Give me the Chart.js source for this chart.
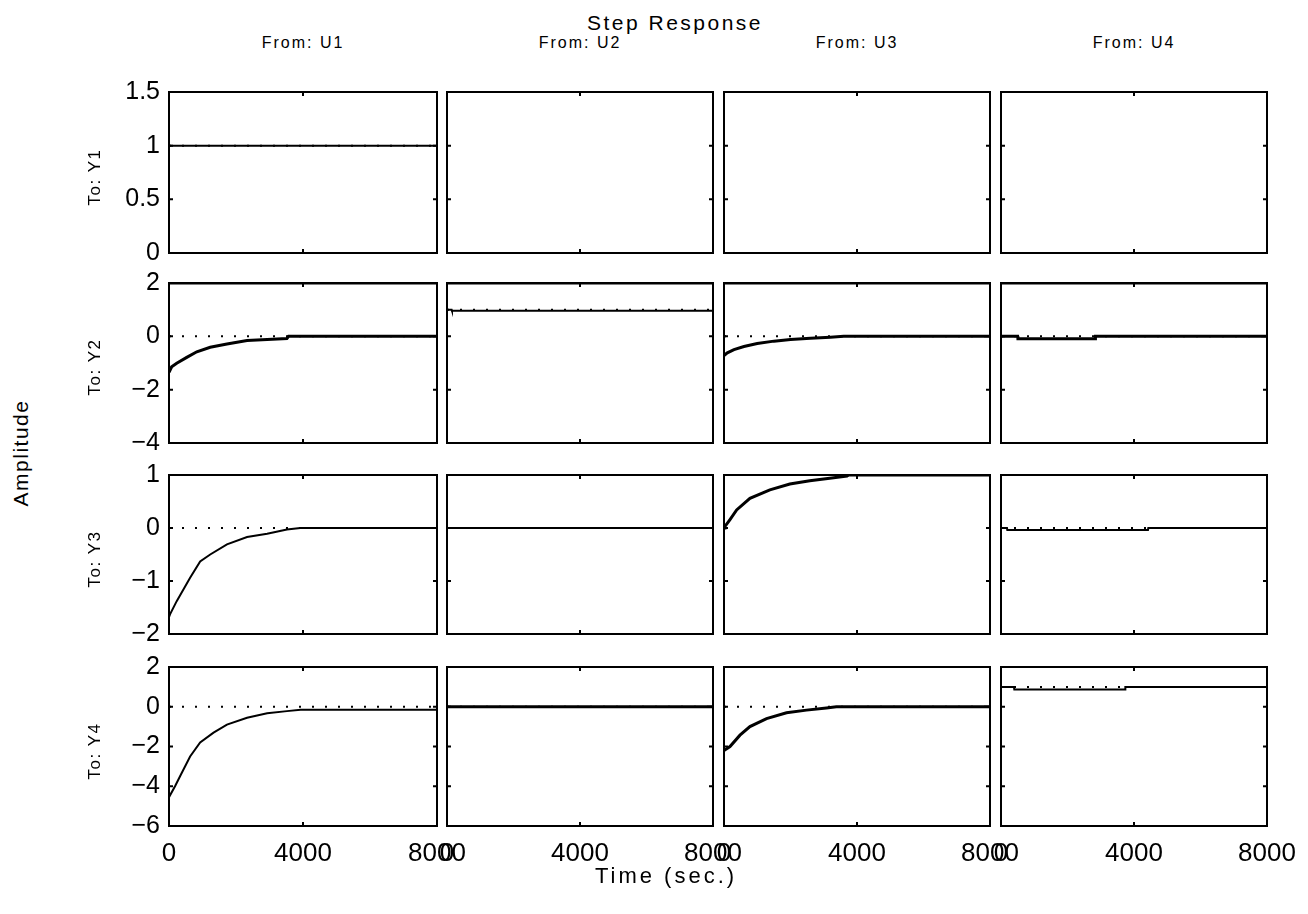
<!DOCTYPE html>
<html>
<head>
<meta charset="utf-8">
<script src="https://cdn.jsdelivr.net/npm/chart.js@4"></script>
<style>
  body { margin: 0; background: #fff; }
  #stage { position: relative; width: 1308px; height: 914px; overflow: hidden; font-family: "Liberation Sans", Arial, sans-serif; color: #000; }
  #stage canvas { position: absolute; }
  .lbl { position: absolute; white-space: nowrap; transform: translate(-50%, -50%); }
  .rot { transform: translate(-50%, -50%) rotate(-90deg); }
</style>
</head>
<body>
<div id="stage"></div>
<script>
// -------------------------
// Data
// -------------------------
const inputs = ["U1", "U2", "U3", "U4"];
const outputs = ["Y1", "Y2", "Y3", "Y4"];
const timeTicks = [0, 4000, 8000];
const y1Ticks = [0, 0.5, 1, 1.5];
const y2Ticks = [-4, -2, 0, 2];
const y3Ticks = [-2, -1, 0, 1];
const y4Ticks = [-6, -4, -2, 0, 2];

// steady-state (dotted) levels, row = output, col = input
const steadyY1 = [1, 0, 0, 0];
const steadyY2 = [0, 1, 0, 0];
const steadyY3 = [0, 0, 1, 0];
const steadyY4 = [0, 0, 0, 1];

const flatT = [0, 8000];
const zeroV = [0, 0];

// To: Y1
const y1u1V = [1, 1];

// To: Y2
const y2TopV = [2, 2];
const y2u1T = [0, 80, 230, 530, 830, 1230, 1730, 2330, 2930, 3520, 3570, 8000];
const y2u1V = [-1.35, -1.14, -1.01, -0.79, -0.58, -0.41, -0.29, -0.16, -0.12, -0.08, 0, 0];
const y2u2T = [0, 140, 150, 8000];
const y2u2V = [1, 1, 0.96, 0.96];
const y2u3T = [0, 100, 300, 600, 1000, 1500, 2000, 2600, 3200, 3600, 8000];
const y2u3V = [-0.72, -0.62, -0.5, -0.38, -0.27, -0.18, -0.12, -0.07, -0.03, 0, 0];
const y2u4T = [0, 500, 510, 2830, 2840, 8000];
const y2u4V = [0, 0, -0.09, -0.09, 0, 0];

// To: Y3
const y3u1T = [0, 30, 230, 630, 930, 1230, 1730, 2330, 2930, 3520, 3920, 8000];
const y3u1V = [-1.68, -1.63, -1.38, -0.94, -0.63, -0.5, -0.31, -0.17, -0.11, -0.03, 0, 0];
const y3u3T = [0, 30, 180, 380, 780, 1380, 1980, 2580, 3180, 3700, 3750, 8000];
const y3u3V = [0, 0.03, 0.16, 0.34, 0.56, 0.72, 0.83, 0.89, 0.94, 0.98, 1, 1];
const y3u4T = [0, 180, 190, 4420, 4430, 8000];
const y3u4V = [0, 0, -0.04, -0.04, 0, 0];

// To: Y4
const y4u1T = [0, 180, 330, 630, 930, 1330, 1730, 2330, 2930, 3520, 3930, 8000];
const y4u1V = [-4.55, -4.0, -3.5, -2.5, -1.8, -1.3, -0.9, -0.55, -0.33, -0.22, -0.15, -0.15];
const y4u3T = [0, 180, 480, 780, 1280, 1880, 2480, 3080, 3380, 8000];
const y4u3V = [-2.2, -2.0, -1.43, -1.0, -0.6, -0.3, -0.17, -0.06, 0, 0];
const y4u4T = [0, 390, 400, 3730, 3740, 8000];
const y4u4V = [1, 1, 0.87, 0.87, 1, 1];

// -------------------------
// Panel setup
// -------------------------
const rowTicks = [y1Ticks, y2Ticks, y3Ticks, y4Ticks];
const rowSteady = [steadyY1, steadyY2, steadyY3, steadyY4];

// response traces per panel: [times, values, width]
const traces = [
  [[[flatT, y1u1V, 2]], [[flatT, zeroV, 2]], [[flatT, zeroV, 2]], [[flatT, zeroV, 2]]],
  [
    [[flatT, y2TopV, 3], [y2u1T, y2u1V, 3]],
    [[flatT, y2TopV, 3], [y2u2T, y2u2V, 2]],
    [[flatT, y2TopV, 3], [y2u3T, y2u3V, 3]],
    [[flatT, y2TopV, 3], [y2u4T, y2u4V, 3]]
  ],
  [[[y3u1T, y3u1V, 2]], [[flatT, zeroV, 2]], [[y3u3T, y3u3V, 3]], [[y3u4T, y3u4V, 2]]],
  [[[y4u1T, y4u1V, 2]], [[flatT, zeroV, 3]], [[y4u3T, y4u3V, 3]], [[y4u4T, y4u4V, 2]]]
];

const colBox = [[169, 437], [447, 713], [724, 990], [1001, 1267]];
const rowBox = [[92, 253], [283, 443], [475, 634], [667, 826]];
const LEFT = 70, TOP = 24, RIGHT = 40, BOTTOM = 56;

const stage = document.getElementById("stage");

function addLabel(text, x, y, size, rotate, extra) {
  const d = document.createElement("div");
  d.className = "lbl" + (rotate ? " rot" : "");
  d.textContent = text;
  d.style.left = x + "px";
  d.style.top = y + "px";
  d.style.fontSize = size + "px";
  if (extra) Object.assign(d.style, extra);
  stage.appendChild(d);
}

const fmt = v => (v < 0 ? "\u2212" + Math.abs(v) : String(v));

// no extra padding from tick labels spilling past the plot box
const noSpill = s => { s.paddingTop = 0; s.paddingBottom = 0; s.paddingLeft = 0; s.paddingRight = 0; };

// box + inward tick marks
const framePlugin = {
  id: "frame",
  afterDatasetsDraw(chart) {
    const { ctx, chartArea: a, scales: { x, y } } = chart;
    ctx.save();
    ctx.strokeStyle = "#000";
    ctx.lineWidth = 2;
    ctx.strokeRect(a.left, a.top, a.right - a.left, a.bottom - a.top);
    ctx.beginPath();
    x.ticks.forEach(t => {
      const px = x.getPixelForValue(t.value);
      ctx.moveTo(px, a.top); ctx.lineTo(px, a.top + 4);
      ctx.moveTo(px, a.bottom); ctx.lineTo(px, a.bottom - 4);
    });
    y.ticks.forEach(t => {
      const py = y.getPixelForValue(t.value);
      ctx.moveTo(a.left, py); ctx.lineTo(a.left + 4, py);
      ctx.moveTo(a.right, py); ctx.lineTo(a.right - 4, py);
    });
    ctx.stroke();
    ctx.restore();
  }
};

function makePanel(r, c) {
  const [L, R] = colBox[c];
  const [T, B] = rowBox[r];
  const canvas = document.createElement("canvas");
  const w = (R - L) + LEFT + RIGHT;
  const h = (B - T) + TOP + BOTTOM;
  canvas.width = w; canvas.height = h;
  canvas.style.left = (L - LEFT) + "px";
  canvas.style.top = (T - TOP) + "px";
  canvas.style.width = w + "px";
  canvas.style.height = h + "px";
  stage.appendChild(canvas);

  const yt = rowTicks[r];
  const steady = rowSteady[r][c];

  const datasets = [{
    data: flatT.map(t => ({ x: t, y: steady })),
    borderColor: "#000",
    borderWidth: 2,
    borderDash: [2, 11],
    pointRadius: 0
  }];
  traces[r][c].forEach(([ts, vs, lw]) => {
    datasets.push({
      data: ts.map((t, i) => ({ x: t, y: vs[i] })),
      borderColor: "#000",
      borderWidth: lw,
      pointRadius: 0,
      tension: 0
    });
  });

  new Chart(canvas, {
    type: "line",
    data: { datasets },
    options: {
      responsive: false,
      animation: false,
      devicePixelRatio: 1,
      layout: { padding: { top: TOP, right: RIGHT, left: 0, bottom: 0 } },
      plugins: { legend: { display: false }, tooltip: { enabled: false } },
      scales: {
        x: {
          type: "linear",
          min: 0, max: 8000,
          afterBuildTicks: s => { s.ticks = timeTicks.map(v => ({ value: v })); },
          afterFit: s => { s.height = BOTTOM; noSpill(s); },
          grid: { display: false, drawTicks: false },
          border: { display: false },
          ticks: {
            display: r === 3,
            maxRotation: 0,
            autoSkip: false,
            padding: 12,
            color: "#000",
            font: { family: "Liberation Sans", size: 26 },
            callback: v => String(v)
          }
        },
        y: {
          min: yt[0], max: yt[yt.length - 1],
          afterBuildTicks: s => { s.ticks = yt.map(v => ({ value: v })); },
          afterFit: s => { s.width = LEFT; noSpill(s); },
          grid: { display: false, drawTicks: false },
          border: { display: false },
          ticks: {
            display: c === 0,
            autoSkip: false,
            padding: 9,
            color: "#000",
            font: { family: "Liberation Sans", size: 25 },
            callback: v => fmt(v)
          }
        }
      }
    },
    plugins: [framePlugin]
  });
}

for (let r = 0; r < 4; r++) {
  for (let c = 0; c < 4; c++) makePanel(r, c);
}

// -------------------------
// Titles and labels
// -------------------------
addLabel("Step Response", 675, 23, 21, false, { letterSpacing: "2.5px" });
inputs.forEach((u, c) => addLabel("From: " + u, (colBox[c][0] + colBox[c][1]) / 2, 43, 16, false, { letterSpacing: "2px" }));
outputs.forEach((y, r) => addLabel("To: " + y, 95, (rowBox[r][0] + rowBox[r][1]) / 2 + 4, 17, true, { letterSpacing: "1.5px" }));
addLabel("Amplitude", 21, 453, 21, true, { letterSpacing: "1.5px" });
addLabel("Time (sec.)", 666, 876, 22, false, { letterSpacing: "3px" });
</script>
</body>
</html>
